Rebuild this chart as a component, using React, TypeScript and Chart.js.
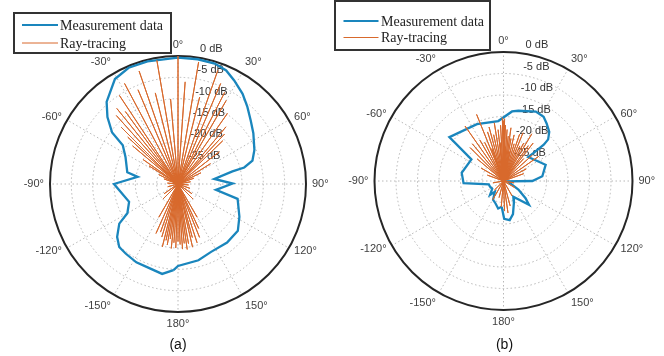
import React, { useEffect, useRef } from "react";
import { Chart, registerables } from "chart.js";

Chart.register(...registerables);

// ---------- data ----------
const angleTicks = [0, 30, 60, 90, 120, 150, 180, -150, -120, -90, -60, -30];
const angleTickLabels = ["0°", "30°", "60°", "90°", "120°", "150°", "180°", "-150°", "-120°", "-90°", "-60°", "-30°"];
const rTicks = [0, -5, -10, -15, -20, -25];
const rTickLabels = ["0 dB", "-5 dB", "-10 dB", "-15 dB", "-20 dB", "-25 dB"];
const R_MIN = -30;
const R_MAX = 0;

const legendLabels = ["Measurement data", "Ray-tracing"];
const captions = ["(a)", "(b)"];

// (a) measurement (angle in degrees, clockwise from 0° at top)
const measAAngles = [-177, -170, -160, -152, -143, -137, -131, -124, -120, -110, -90, -80, -77, -63, -55, -52, -46.5, -41, -37, -31, -23, -14, 0, 9, 17, 23, 28.5, 35.6, 42, 49, 56, 66, 72.5, 76, 77, 82, 89.5, 98.7, 104, 118, 128, 140, 154, 165, 180];
const measADb = [-9.8, -8.6, -9.2, -9.2, -9.6, -9.8, -11.1, -13.4, -16.3, -17.8, -15.0, -20.4, -17.8, -16.2, -14.2, -10.4, -7.2, -4.5, -3.4, -1.3, -0.4, -0.4, -0.4, -0.4, -0.5, -1.1, -2.4, -4.0, -5.7, -7.4, -8.7, -10.4, -11.7, -14.0, -16.9, -21.4, -17.2, -21.0, -15.6, -13.7, -12.2, -12.1, -12.3, -11.5, -10.8];

// (a) ray-tracing
const raysAAngles = [-64, -58, -55, -50, -47, -45, -42, -39, -36, -33.5, -28, -23, -19, -14, -9.7, -5, 0, 4, 9.6, 14, 19.3, 23, 27, 30, 35, 40, 43, 46, 52, 58, 64, 70, -70, 80, -85, 95, -105, 110, 125, -125, 135, -135, 150, 155, 158, 162, 165, 167, 170, 172, 174, 176, 178, 180, -178, -176, -174, -172, -170, -168, -166, -163, -160, -156, -150];
const raysADb = [-25, -22, -20, -16.1, -13.9, -11.2, -8.4, -7.2, -9, -5.1, -3.3, -6, -2.0, -8, -0.6, -10, 0, -6, -1.0, -9, -1.8, -4.4, -5.9, -7.4, -9.8, -12.5, -14, -15.4, -17.7, -21, -24, -26, -26.5, -27, -27.5, -27.5, -27.5, -27, -26, -26, -25, -25, -21, -18.5, -16.5, -15.5, -17, -14.8, -15.8, -14.5, -16, -14.7, -15.8, -16.5, -15, -16.2, -14.8, -17, -15.5, -16.5, -14.8, -17, -18, -17.3, -21];

// (b) measurement
const measBAngles = [-176, -169, -160, -151, -141, -136, -125, -112, -103, -93, -79, -56, -51, -25, -5, 7, 12, 25, 32, 37, 43, 47, 48, 47, 46, 69, 83, 90, 96, 120, 128, 133, 148, 155, 164, 171, 179];
const measBDb = [-24.0, -23.5, -24.5, -25.0, -26.8, -25.5, -26.8, -26.6, -26.5, -20.7, -20.1, -21.0, -13.8, -15.4, -16.0, -13.7, -13.3, -12.2, -12.4, -13.3, -14.4, -15.8, -17.4, -20.5, -22.0, -19.5, -20.9, -23.3, -29.0, -26.0, -23.5, -21.9, -25.7, -24.3, -22.0, -20.8, -21.2];

// (b) ray-tracing
const raysBAngles = [-60, -50, -45, -40, -35, -30, -26, -22, -18, -15, -12, -9, -6, -3, -1, 0, 1, 2, 4, 6, 8, 10, 13, 16, 19, 22, 25, 28, 31, 35, 38, 42, 48, 55, 62, 70, -70, -20, -5, 3, 12, 150, 165, 172, 178, -175, -165, -150, -135, 120, 100, -100];
const raysBDb = [-24, -22, -19, -18.7, -14.4, -19, -20, -13.3, -18, -17, -19, -16.3, -18, -17, -15.3, -16, -15.5, -17, -18, -19.5, -17.5, -20, -19, -21, -18.5, -17.9, -21, -20, -17.2, -20, -18.8, -23, -21, -20, -24, -25, -26, -22, -21, -22, -23, -26, -24, -22.5, -23, -24, -26, -25, -27, -27, -27.5, -27.5];

// ---------- styles ----------
const BLUE = "#1a86bd";
const ORANGE = "#d8692c";
const GRID = "#b8b8b8";

const PANEL_W = 332;
const PANEL_H = 356;

type Layout = {
  left: number; cx: number; cy: number; R: number;
  legend: { x: number; y: number; w: number; h: number; row1: number; row2: number; l0: number; l1: number; tx: number };
  capX: number; capY: number;
};

const layoutA: Layout = {
  left: 0, cx: 178, cy: 184, R: 128,
  legend: { x: 14, y: 13, w: 157, h: 40, row1: 12, row2: 30, l0: 8, l1: 44, tx: 46 },
  capX: 178, capY: 345,
};
const layoutB: Layout = {
  left: 332, cx: 171.5, cy: 181, R: 129,
  legend: { x: 3, y: 1, w: 155, h: 49, row1: 20, row2: 36.5, l0: 8.5, l1: 43.5, tx: 46 },
  capX: 172.5, capY: 345,
};

function toXY(angleDeg: number, db: number) {
  const r = Math.max(0, (db - R_MIN) / (R_MAX - R_MIN));
  const t = (angleDeg * Math.PI) / 180;
  return { x: r * Math.sin(t), y: r * Math.cos(t) };
}

function makePlugin(layout: Layout, caption: string) {
  return {
    id: "polarDecor",
    beforeDatasetsDraw(chart: any) {
      const ctx = chart.ctx as CanvasRenderingContext2D;
      const xs = chart.scales.x;
      const ys = chart.scales.y;
      const cx = xs.getPixelForValue(0);
      const cy = ys.getPixelForValue(0);
      const R = xs.getPixelForValue(1) - cx;
      ctx.save();
      ctx.fillStyle = "#ffffff";
      ctx.fillRect(0, 0, chart.width, chart.height);
      // dotted grid
      ctx.strokeStyle = GRID;
      ctx.lineWidth = 1;
      ctx.setLineDash([1.5, 2.5]);
      rTicks.forEach((t) => {
        if (t === R_MAX) return;
        const r = (R * (t - R_MIN)) / (R_MAX - R_MIN);
        ctx.beginPath();
        ctx.arc(cx, cy, r, 0, Math.PI * 2);
        ctx.stroke();
      });
      angleTicks.forEach((a) => {
        const th = (a * Math.PI) / 180;
        ctx.beginPath();
        ctx.moveTo(cx, cy);
        ctx.lineTo(cx + R * Math.sin(th), cy - R * Math.cos(th));
        ctx.stroke();
      });
      ctx.setLineDash([]);
      // outer circle
      ctx.strokeStyle = "#262626";
      ctx.lineWidth = 2;
      ctx.beginPath();
      ctx.arc(cx, cy, R, 0, Math.PI * 2);
      ctx.stroke();
      // angle labels
      ctx.font = '11px "Liberation Sans", Arial, sans-serif';
      ctx.fillStyle = "#404040";
      angleTicks.forEach((a, i) => {
        const th = (a * Math.PI) / 180;
        const s = Math.sin(th);
        const c = Math.cos(th);
        const px = cx + (R + 6) * s;
        const py = cy - (R + 6) * c;
        ctx.textAlign = Math.abs(s) < 0.1 ? "center" : s > 0 ? "left" : "right";
        ctx.textBaseline = c > 0.7 ? "bottom" : c < -0.7 ? "top" : "middle";
        ctx.fillText(angleTickLabels[i], px, py);
      });
      // radial labels
      ctx.fillStyle = "#333333";
      ctx.textAlign = "left";
      ctx.textBaseline = "middle";
      rTicks.forEach((t, i) => {
        const r = (R * (t - R_MIN)) / (R_MAX - R_MIN);
        ctx.fillText(rTickLabels[i], cx + 7.6 + 0.1125 * r, cy - r - 7);
      });
      ctx.restore();
    },
    afterDraw(chart: any) {
      const ctx = chart.ctx as CanvasRenderingContext2D;
      const L = layout.legend;
      ctx.save();
      ctx.fillStyle = "#ffffff";
      ctx.fillRect(L.x, L.y, L.w, L.h);
      ctx.strokeStyle = "#333333";
      ctx.lineWidth = 2;
      ctx.strokeRect(L.x, L.y, L.w, L.h);
      // rows
      ctx.lineWidth = 2.2;
      ctx.strokeStyle = BLUE;
      ctx.beginPath();
      ctx.moveTo(L.x + L.l0, L.y + L.row1);
      ctx.lineTo(L.x + L.l1, L.y + L.row1);
      ctx.stroke();
      ctx.lineWidth = 1;
      ctx.strokeStyle = ORANGE;
      ctx.beginPath();
      ctx.moveTo(L.x + L.l0, L.y + L.row2);
      ctx.lineTo(L.x + L.l1, L.y + L.row2);
      ctx.stroke();
      ctx.fillStyle = "#222222";
      ctx.font = '14px "Liberation Serif", "Times New Roman", serif';
      ctx.textAlign = "left";
      ctx.textBaseline = "middle";
      ctx.fillText(legendLabels[0], L.x + L.tx, L.y + L.row1 + 1);
      ctx.fillText(legendLabels[1], L.x + L.tx, L.y + L.row2 + 1);
      // caption
      ctx.font = '14px "Liberation Sans", Arial, sans-serif';
      ctx.fillStyle = "#111111";
      ctx.textAlign = "center";
      ctx.textBaseline = "middle";
      ctx.fillText(caption, layout.capX, layout.capY);
      ctx.restore();
    },
  };
}

type PanelProps = {
  layout: Layout;
  measAngles: number[];
  measDb: number[];
  rayAngles: number[];
  rayDb: number[];
  caption: string;
};

function PolarPanel({ layout, measAngles, measDb, rayAngles, rayDb, caption }: PanelProps) {
  const ref = useRef<HTMLCanvasElement | null>(null);
  useEffect(() => {
    if (!ref.current) return;
    const meas = measAngles.map((a, i) => toXY(a, measDb[i]));
    meas.push(meas[0]);
    const rays: { x: number; y: number }[] = [];
    rayAngles.forEach((a, i) => {
      rays.push({ x: 0, y: 0 });
      rays.push(toXY(a, rayDb[i]));
    });
    rays.push({ x: 0, y: 0 });
    const { cx, cy, R } = layout;
    const chart = new Chart(ref.current, {
      type: "scatter",
      data: {
        datasets: [
          {
            label: legendLabels[1],
            data: rays,
            showLine: true,
            borderColor: ORANGE,
            borderWidth: 1,
            pointRadius: 0,
            tension: 0,
          },
          {
            label: legendLabels[0],
            data: meas,
            showLine: true,
            borderColor: BLUE,
            borderWidth: 2.3,
            pointRadius: 0,
            tension: 0,
            borderJoinStyle: "miter",
          },
        ],
      },
      options: {
        responsive: false,
        maintainAspectRatio: false,
        animation: false,
        events: [],
        layout: { padding: 0 },
        plugins: { legend: { display: false }, tooltip: { enabled: false }, title: { display: false } },
        scales: {
          x: { type: "linear", display: false, min: -cx / R, max: (PANEL_W - cx) / R },
          y: { type: "linear", display: false, min: -(PANEL_H - cy) / R, max: cy / R },
        },
      },
      plugins: [makePlugin(layout, caption)],
    } as any);
    return () => chart.destroy();
  }, []);
  return (
    <canvas
      ref={ref}
      width={PANEL_W}
      height={PANEL_H}
      style={{ position: "absolute", left: layout.left, top: 0, width: PANEL_W, height: PANEL_H }}
    />
  );
}

export default function App() {
  return (
    <div style={{ position: "absolute", left: 0, top: 0, width: 664, height: 356, background: "#fff", overflow: "hidden" }}>
      <PolarPanel layout={layoutA} measAngles={measAAngles} measDb={measADb} rayAngles={raysAAngles} rayDb={raysADb} caption={captions[0]} />
      <PolarPanel layout={layoutB} measAngles={measBAngles} measDb={measBDb} rayAngles={raysBAngles} rayDb={raysBDb} caption={captions[1]} />
    </div>
  );
}
